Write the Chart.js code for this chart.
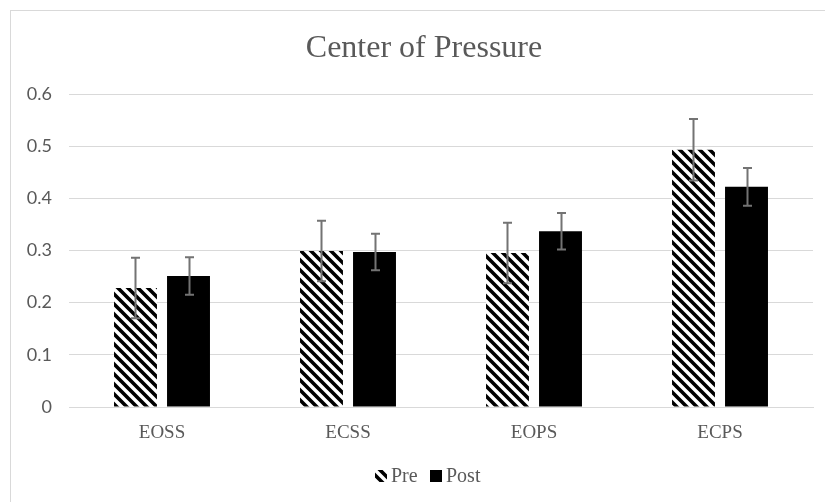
<!DOCTYPE html>
<html>
<head>
<meta charset="utf-8">
<script src="https://cdn.jsdelivr.net/npm/chart.js@4.4.1/dist/chart.umd.min.js"></script>
<style>
  html, body { margin: 0; padding: 0; background: #ffffff; }
  #wrap { position: relative; width: 825px; height: 502px; }
</style>
</head>
<body>
<div id="wrap"><canvas id="c" width="825" height="502"></canvas></div>
<script>
const categories = ["EOSS", "ECSS", "EOPS", "ECPS"];
const preValues = [0.228, 0.299, 0.295, 0.493];
const postValues = [0.251, 0.297, 0.337, 0.422];
const preErrors = [0.058, 0.058, 0.058, 0.059];
const postErrors = [0.036, 0.035, 0.035, 0.036];
const yTicks = [0, 0.1, 0.2, 0.3, 0.4, 0.5, 0.6];
const chartTitle = 'Center of Pressure';
const seriesNames = ['Pre', 'Post'];

const GRAY_TEXT = '#595959';
const GRID = '#d9d9d9';
const SERIF = '"Liberation Serif", "Times New Roman", serif';
const SANS = 'Lato, "Open Sans", sans-serif';

function makeHatch() {
  const s = 10;
  const cv = document.createElement('canvas');
  cv.width = s; cv.height = s;
  const g = cv.getContext('2d');
  g.fillStyle = '#ffffff';
  g.fillRect(0, 0, s, s);
  g.strokeStyle = '#000000';
  g.lineWidth = 3.6;
  g.lineCap = 'square';
  g.beginPath();
  g.moveTo(-s, 0); g.lineTo(s, 2 * s);
  g.moveTo(0, 0); g.lineTo(s, s);
  g.moveTo(0, -s); g.lineTo(2 * s, s);
  g.stroke();
  return g.createPattern(cv, 'repeat');
}
const ctx0 = document.getElementById('c').getContext('2d');
const hatch = makeHatch();

const errorBarPlugin = {
  id: 'errorBars',
  afterDatasetsDraw(chart) {
    const ctx = chart.ctx;
    const y = chart.scales.y;
    const errs = [preErrors, postErrors];
    ctx.save();
    ctx.strokeStyle = '#737373';
    ctx.lineWidth = 2;
    chart.data.datasets.forEach((ds, di) => {
      const meta = chart.getDatasetMeta(di);
      meta.data.forEach((bar, i) => {
        const v = ds.data[i];
        const e = errs[di][i];
        const x = Math.round(bar.x) + 0.5;
        const yt = y.getPixelForValue(v + e);
        const yb = y.getPixelForValue(v - e);
        ctx.beginPath();
        ctx.moveTo(x, yt); ctx.lineTo(x, yb);
        ctx.moveTo(x - 4.5, yt); ctx.lineTo(x + 4.5, yt);
        ctx.moveTo(x - 4.5, yb); ctx.lineTo(x + 4.5, yb);
        ctx.stroke();
      });
    });
    ctx.restore();
  }
};

const frameTitleLegendPlugin = {
  id: 'frameTitleLegend',
  beforeDraw(chart) {
    const ctx = chart.ctx;
    ctx.save();
    ctx.fillStyle = '#ffffff';
    ctx.fillRect(0, 0, chart.width, chart.height);
    ctx.strokeStyle = '#d9d9d9';
    ctx.lineWidth = 1;
    ctx.strokeRect(10.5, 10.5, 840, 520);
    ctx.restore();
  },
  afterDraw(chart) {
    const ctx = chart.ctx;
    ctx.save();
    ctx.fillStyle = GRAY_TEXT;
    ctx.font = '32px ' + SERIF;
    ctx.textAlign = 'center';
    ctx.textBaseline = 'middle';
    ctx.fillText(chartTitle, 424, 49);

    // legend
    ctx.font = '20px ' + SERIF;
    ctx.textAlign = 'left';
    ctx.textBaseline = 'middle';
    const ly = 476;
    const items = chart.data.datasets.map(ds => ({ label: ds.label, fill: ds.backgroundColor }));
    const xs = [375, 430];
    items.forEach((it, i) => {
      ctx.fillStyle = it.fill;
      ctx.fillRect(xs[i], ly - 6, 12, 12);
      ctx.fillStyle = GRAY_TEXT;
      ctx.fillText(it.label, xs[i] + 16, ly + 1);
    });
    ctx.restore();
  }
};

new Chart(ctx0, {
  type: 'bar',
  data: {
    labels: categories,
    datasets: [
      { label: seriesNames[0], data: preValues, backgroundColor: hatch, borderWidth: 0,
        categoryPercentage: 0.57, barPercentage: 0.81 },
      { label: seriesNames[1], data: postValues, backgroundColor: '#000000', borderWidth: 0,
        categoryPercentage: 0.57, barPercentage: 0.81 }
    ]
  },
  options: {
    responsive: false,
    animation: false,
    devicePixelRatio: 1,
    layout: { padding: { left: 0, right: 12, top: 94, bottom: 45 } },
    plugins: {
      title: { display: false },
      legend: { display: false },
      tooltip: { enabled: false }
    },
    scales: {
      x: {
        grid: { display: false, drawTicks: false },
        border: { display: true, color: GRID, width: 1 },
        ticks: { color: GRAY_TEXT, font: { family: SERIF, size: 19 }, padding: 15 },
        afterFit(scale) { scale.height = 50; }
      },
      y: {
        min: 0, max: 0.6,
        afterBuildTicks(scale) { scale.ticks = yTicks.map(v => ({ value: v })); },
        grid: { color: GRID, lineWidth: 1, drawTicks: false },
        border: { display: false },
        ticks: {
          color: GRAY_TEXT, font: { family: SANS, size: 18 }, padding: 17,
          callback: (v) => (v === 0 ? '0' : v.toFixed(1))
        },
        afterFit(scale) { scale.width = 69; }
      }
    }
  },
  plugins: [frameTitleLegendPlugin, errorBarPlugin]
});
</script>
</body>
</html>
